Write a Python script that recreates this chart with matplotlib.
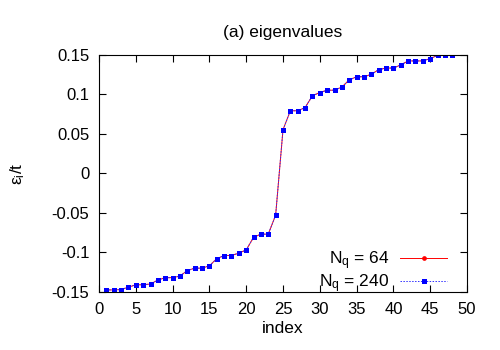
import matplotlib
matplotlib.use("Agg")
import matplotlib.pyplot as plt
from matplotlib.ticker import FuncFormatter

plt.rcParams['font.family'] = ['Liberation Sans', 'DejaVu Sans']
plt.rcParams['mathtext.fontset'] = 'custom'
plt.rcParams['mathtext.rm'] = 'Liberation Sans'
plt.rcParams['mathtext.it'] = 'Liberation Sans'

# eigenvalues (both runs land on the same values)
index = list(range(1, 49))
eig_64 = [-0.1475, -0.1475, -0.147, -0.144, -0.141, -0.141, -0.140, -0.135,
          -0.132, -0.132, -0.130, -0.123, -0.120, -0.120, -0.117, -0.108,
          -0.104, -0.104, -0.101, -0.097, -0.081, -0.077, -0.077, -0.053,
          0.055, 0.079, 0.079, 0.083, 0.098, 0.102, 0.105, 0.105,
          0.109, 0.118, 0.122, 0.122, 0.125, 0.131, 0.133, 0.133,
          0.137, 0.142, 0.142, 0.142, 0.145, 0.149, 0.149, 0.149]
eig_240 = list(eig_64)

fig = plt.figure(figsize=(5, 3.5), dpi=100)
ax = fig.add_axes([0.198, 0.166, 0.736, 0.678])

ax.plot(index, eig_64, color='#ff0000', lw=0.7, marker='o', ms=3.4, mew=0,
        label=r'N$_\mathregular{q}$ = 64')
ax.plot(index, eig_240, color='#3030ff', lw=0.7, ls=(0, (1.5, 1.5)), marker='s',
        ms=3.6, mew=0, mfc='#0000ff', label=r'N$_\mathregular{q}$ = 240')

ax.set_xlim(0, 50)
ax.set_ylim(-0.15, 0.15)
ax.set_xticks(range(0, 51, 5))
ax.set_yticks([-0.15, -0.1, -0.05, 0, 0.05, 0.1, 0.15])
ax.yaxis.set_major_formatter(FuncFormatter(lambda v, p: '%g' % round(v, 3)))
ax.tick_params(direction='in', top=True, right=True, labelsize=12, length=5, pad=7)
for s in ax.spines.values():
    s.set_linewidth(0.8)

ax.set_title('(a) eigenvalues', fontsize=12.5, pad=13)
ax.set_xlabel('index', fontsize=12.5, labelpad=3)
ax.set_ylabel(r'ε$_\mathregular{i}$/t', fontsize=12.5, labelpad=18)

ax.legend(loc='lower right', bbox_to_anchor=(0.975, -0.055), frameon=False,
          markerfirst=False, fontsize=12.5, handlelength=2.75, handletextpad=0.6,
          labelspacing=0.0, numpoints=1, borderaxespad=0.2)

fig.savefig('out.png', dpi=100)
